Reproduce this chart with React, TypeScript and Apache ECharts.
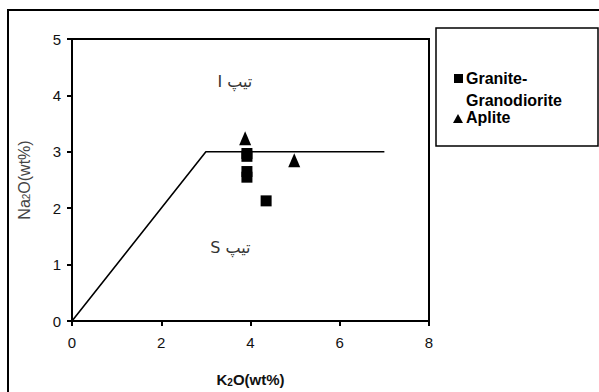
import React, { useEffect, useRef } from "react";
import * as echarts from "echarts";

// K2O (x) vs Na2O (y), wt%
const graniteGranodiorite: [number, number][] = [
  [3.92, 2.97],
  [3.92, 2.92],
  [3.92, 2.65],
  [3.92, 2.55],
  [4.35, 2.13],
];
const aplite: [number, number][] = [
  [3.88, 3.24],
  [4.98, 2.85],
];
// I-type / S-type boundary
const boundary: [number, number][] = [
  [0, 0],
  [3, 3],
  [7, 3],
];
// field labels placed at data coordinates
const fieldLabels: { name: string; value: [number, number] }[] = [
  { name: "I تیپ", value: [3.65, 4.24] },
  { name: "S تیپ", value: [3.55, 1.31] },
];
const xTicks = { min: 0, max: 8, interval: 2 };
const yTicks = { min: 0, max: 5, interval: 1 };

const FONT = "'Liberation Sans', Arial, sans-serif";

export default function App() {
  const ref = useRef<HTMLDivElement>(null);

  useEffect(() => {
    if (!ref.current) return;
    const chart = echarts.init(ref.current, undefined, { renderer: "svg" });
    chart.setOption({
      animation: false,
      backgroundColor: "#ffffff",
      grid: {
        left: 72,
        top: 39,
        right: 170,
        bottom: 71,
        show: true,
        borderColor: "#000",
        borderWidth: 2,
        backgroundColor: "transparent",
      },
      xAxis: {
        type: "value",
        ...xTicks,
        name: "K{s|2}O(wt%)",
        nameLocation: "middle",
        nameGap: 51,
        nameTextStyle: {
          fontFamily: FONT,
          fontSize: 15,
          fontWeight: "bold",
          color: "#111",
          rich: {
            s: { fontFamily: FONT, fontSize: 10, fontWeight: "bold", color: "#111", padding: [5, 0, 0, 0] },
          },
        },
        axisLine: { lineStyle: { color: "#000", width: 2 } },
        axisTick: { show: true, length: 5, lineStyle: { color: "#000", width: 2 } },
        splitLine: { show: false },
        axisLabel: { fontFamily: FONT, fontSize: 15, color: "#111", margin: 14 },
      },
      yAxis: {
        type: "value",
        ...yTicks,
        name: "Na{s|2}O(wt%)",
        nameLocation: "middle",
        nameGap: 40,
        nameRotate: 90,
        nameTextStyle: {
          fontFamily: FONT,
          fontSize: 16,
          color: "#444",
          rich: {
            s: { fontFamily: FONT, fontSize: 10, color: "#444", padding: [5, 0, 0, 0] },
          },
        },
        axisLine: { lineStyle: { color: "#000", width: 2 } },
        axisTick: { show: true, length: 5, lineStyle: { color: "#000", width: 2 } },
        splitLine: { show: false },
        axisLabel: { fontFamily: FONT, fontSize: 15, color: "#111", margin: 11 },
      },
      series: [
        {
          type: "line",
          name: "boundary",
          data: boundary,
          showSymbol: false,
          symbol: "none",
          lineStyle: { color: "#000", width: 1.6 },
          silent: true,
          z: 2,
        },
        {
          type: "scatter",
          name: "Granite-Granodiorite",
          data: graniteGranodiorite,
          symbol: "rect",
          symbolSize: [11, 11],
          itemStyle: { color: "#000", opacity: 1 },
          z: 3,
        },
        {
          type: "scatter",
          name: "Aplite",
          data: aplite,
          symbol: "triangle",
          symbolSize: [12, 14],
          itemStyle: { color: "#000", opacity: 1 },
          z: 3,
        },
        {
          type: "scatter",
          name: "fields",
          data: fieldLabels,
          symbolSize: 0,
          silent: true,
          itemStyle: { color: "#fff", opacity: 1 },
          label: {
            show: true,
            position: "inside",
            formatter: (p: any) => p.name,
            fontFamily: "'DejaVu Sans', sans-serif",
            fontSize: 16,
            color: "#333",
            textBorderWidth: 0,
            textBorderColor: "transparent",
          },
        },
      ],
      graphic: [
        // outer chart frame
        {
          type: "rect",
          shape: { x: 8, y: 10, width: 620, height: 420 },
          style: { fill: "none", stroke: "#000", lineWidth: 2 },
          silent: true,
        },
        // legend box
        {
          type: "rect",
          shape: { x: 436, y: 28, width: 162, height: 118 },
          style: { fill: "#fff", stroke: "#000", lineWidth: 1.5 },
          silent: true,
        },
        {
          type: "rect",
          shape: { x: 454, y: 74, width: 9, height: 9 },
          style: { fill: "#000" },
          silent: true,
        },
        {
          type: "text",
          x: 466,
          y: 78,
          style: {
            text: "Granite-",
            fontFamily: FONT,
            fontSize: 16,
            fontWeight: "bold",
            fill: "#000",
            verticalAlign: "middle",
          },
        },
        {
          type: "text",
          x: 466,
          y: 100,
          style: {
            text: "Granodiorite",
            fontFamily: FONT,
            fontSize: 16,
            fontWeight: "bold",
            fill: "#000",
            verticalAlign: "middle",
          },
        },
        {
          type: "polygon",
          shape: { points: [[458, 114], [453, 123], [463, 123]] },
          style: { fill: "#000" },
          silent: true,
        },
        {
          type: "text",
          x: 466,
          y: 117,
          style: {
            text: "Aplite",
            fontFamily: FONT,
            fontSize: 16,
            fontWeight: "bold",
            fill: "#000",
            verticalAlign: "middle",
          },
        },
      ],
    });
    return () => chart.dispose();
  }, []);

  return (
    <div
      ref={ref}
      style={{ position: "fixed", left: 0, top: 0, width: 599, height: 392 }}
    />
  );
}
